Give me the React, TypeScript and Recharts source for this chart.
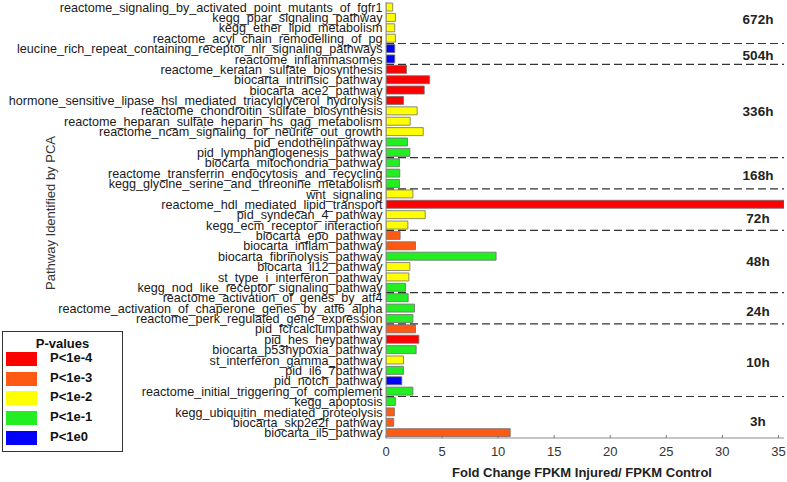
import React from 'react';
import { BarChart, Bar, XAxis, YAxis, Cell, ReferenceLine } from 'recharts';

const pathways = [
  'reactome_signaling_by_activated_point_mutants_of_fgfr1',
  'kegg_ppar_signaling_pathway',
  'kegg_ether_lipid_metabolism',
  'reactome_acyl_chain_remodelling_of_pg',
  'leucine_rich_repeat_containing_receptor_nlr_signaling_pathways',
  'reactome_inflammasomes',
  'reactome_keratan_sulfate_biosynthesis',
  'biocarta_intrinsic_pathway',
  'biocarta_ace2_pathway',
  'hormone_sensitive_lipase_hsl_mediated_triacylglycerol_hydrolysis',
  'reactome_chondroitin_sulfate_biosynthesis',
  'reactome_heparan_sulfate_heparin_hs_gag_metabolism',
  'reactome_ncam_signaling_for_neurite_out_growth',
  'pid_endothelinpathway',
  'pid_lymphangiogenesis_pathway',
  'biocarta_mitochondria_pathway',
  'reactome_transferrin_endocytosis_and_recycling',
  'kegg_glycine_serine_and_threonine_metabolism',
  'wnt_signaling',
  'reactome_hdl_mediated_lipid_transport',
  'pid_syndecan_4_pathway',
  'kegg_ecm_receptor_interaction',
  'biocarta_epo_pathway',
  'biocarta_inflam_pathway',
  'biocarta_fibrinolysis_pathway',
  'biocarta_il12_pathway',
  'st_type_i_interferon_pathway',
  'kegg_nod_like_receptor_signaling_pathway',
  'reactome_activation_of_genes_by_atf4',
  'reactome_activation_of_chaperone_genes_by_atf6_alpha',
  'reactome_perk_regulated_gene_expression',
  'pid_fcrcalciumpathway',
  'pid_hes_heypathway',
  'biocarta_p53hypoxia_pathway',
  'st_interferon_gamma_pathway',
  'pid_il6_7pathway',
  'pid_notch_pathway',
  'reactome_initial_triggering_of_complement',
  'kegg_apoptosis',
  'kegg_ubiquitin_mediated_proteolysis',
  'biocarta_skp2e2f_pathway',
  'biocarta_il5_pathway',
];

const foldChange = [
  0.6, 0.84, 0.78, 0.84,
  0.78, 0.78,
  1.83, 3.89, 3.41, 1.56, 2.78, 2.16, 3.32, 1.92, 2.13,
  1.2, 1.23, 1.2,
  2.4, 35.5, 3.5, 1.95,
  1.26, 2.63, 9.82, 2.13, 2.04, 1.74,
  1.98, 2.54, 2.4,
  2.63, 2.93, 2.69, 1.56, 1.56, 1.41, 2.4,
  0.84, 0.75, 0.69, 11.08,
];

// index into pLabels / pColors
const pLevel = [
  2, 2, 2, 2,
  4, 4,
  0, 0, 0, 0, 2, 2, 2, 3, 3,
  3, 3, 3,
  2, 0, 2, 2,
  1, 1, 3, 2, 2, 3,
  3, 3, 3,
  1, 0, 3, 2, 3, 4, 3,
  3, 1, 1, 1,
];

const groupNames = ['672h', '504h', '336h', '168h', '72h', '48h', '24h', '10h', '3h'];
const groupSizes = [4, 2, 9, 3, 4, 6, 3, 7, 4];

const pLabels = ['P<1e-4', 'P<1e-3', 'P<1e-2', 'P<1e-1', 'P<1e0'];
const pColors = ['#ff0000', '#ff5a14', '#ffff00', '#22ee22', '#0000ff'];

const xTicks = [0, 5, 10, 15, 20, 25, 30, 35];
const xMax = 35.5;

const rows = pathways.map((name, i) => ({ name, value: foldChange[i], level: pLevel[i] }));

// first row index of every group
const starts: number[] = [];
groupSizes.reduce((acc, n) => {
  starts.push(acc);
  return acc + n;
}, 0);
const separatorRows = starts.slice(1);

// where each time label sits: boundary between two rows (even groups) or the middle row (odd groups)
const groupAnchors = groupSizes.map((n, i) => ({
  row: starts[i] + Math.floor(n / 2),
  position: n % 2 === 0 ? 'start' : 'middle',
}));

// small vertical nudges so the time labels sit where the original puts them
const labelNudge: Record<string, number> = {
  '672h': -3,
  '504h': 2,
  '168h': 2,
  '72h': 9,
  '24h': 3,
  '10h': 2,
  '3h': 4,
};

const FONT = "Arial, 'Liberation Sans', sans-serif";

const GroupLabel = (props: any) => {
  const { viewBox, text } = props;
  if (!viewBox) return null;
  return (
    <text
      x={viewBox.x + viewBox.width - 26}
      y={viewBox.y + (labelNudge[text] || 0)}
      textAnchor="middle"
      dominantBaseline="central"
      fontFamily={FONT}
      fontWeight="bold"
      fontSize={13.5}
      fill="#222"
    >
      {text}
    </text>
  );
};

const YTitle = () => {
  const cx = 50;
  const cy = 213;
  return (
    <text
      x={cx}
      y={cy}
      transform={`rotate(-90 ${cx} ${cy})`}
      textAnchor="middle"
      dominantBaseline="central"
      fontFamily={FONT}
      fontSize={13}
      fill="#333"
    >
      Pathway Identified by PCA
    </text>
  );
};

const XTitle = (props: any) => {
  const vb = props.viewBox || { x: 386, y: 438, width: 398, height: 40 };
  return (
    <text
      x={vb.x + vb.width / 2 - 3}
      y={vb.y + 38.5}
      textAnchor="middle"
      fontFamily={FONT}
      fontWeight="bold"
      fontSize={13}
      fill="#222"
    >
      Fold Change FPKM Injured/ FPKM Control
    </text>
  );
};

const PLegend = () => (
  <div
    style={{
      position: 'absolute',
      left: 2,
      top: 331,
      width: 119,
      height: 119,
      border: '1px solid #333',
      background: '#fff',
      fontFamily: FONT,
      fontWeight: 'bold',
      fontSize: 13,
      color: '#111',
    }}
  >
    <div style={{ position: 'absolute', left: 0, width: 119, top: 4, textAlign: 'center' }}>P-values</div>
    {pLabels.map((label, i) => (
      <React.Fragment key={label}>
        <div
          style={{
            position: 'absolute',
            left: 3,
            top: 20 + i * 19.7,
            width: 31,
            height: 14,
            background: pColors[i],
          }}
        />
        <div style={{ position: 'absolute', left: 47, top: 18 + i * 19.7, lineHeight: '16px' }}>{label}</div>
      </React.Fragment>
    ))}
  </div>
);

const frame = { stroke: '#8c8c8c', strokeWidth: 1 };

export default function App() {
  return (
    <div style={{ position: 'absolute', left: 0, top: 0, width: 787, height: 482, background: '#fff' }}>
      <BarChart
        width={787}
        height={482}
        data={rows}
        layout="vertical"
        margin={{ top: 2, right: 3, bottom: 4, left: 0 }}
        barCategoryGap="10%"
      >
        <XAxis
          type="number"
          domain={[0, xMax]}
          ticks={xTicks}
          allowDataOverflow
          height={40}
          axisLine={frame}
          tickSize={-3}
          tickMargin={11.5}
          tickLine={{ stroke: '#777' }}
          tick={{ fontSize: 13, fill: '#333', fontFamily: FONT }}
          label={<XTitle />}
        />
        <XAxis
          xAxisId="top"
          orientation="top"
          type="number"
          domain={[0, xMax]}
          ticks={xTicks}
          height={0}
          axisLine={frame}
          tick={false}
          tickSize={-3}
          tickLine={{ stroke: '#777' }}
        />
        <YAxis
          type="category"
          dataKey="name"
          width={386}
          interval={0}
          axisLine={frame}
          tickLine={false}
          tickSize={0}
          tickMargin={3.5}
          tick={{ fontSize: 12.6, fill: '#1a1a1a', fontFamily: FONT }}
          label={<YTitle />}
        />
        <YAxis
          yAxisId="right"
          orientation="right"
          type="category"
          dataKey="name"
          width={0}
          axisLine={frame}
          tickLine={false}
          tick={false}
        />
        {separatorRows.map((r) => (
          <ReferenceLine
            key={`sep-${r}`}
            y={pathways[r]}
            position="start"
            stroke="#333"
            strokeWidth={1.2}
            strokeDasharray="8 4"
          />
        ))}
        {groupNames.map((g, i) => (
          <ReferenceLine
            key={`lab-${g}`}
            y={pathways[groupAnchors[i].row]}
            position={groupAnchors[i].position as any}
            stroke="none"
            label={<GroupLabel text={g} />}
          />
        ))}
        <Bar dataKey="value" isAnimationActive={false} stroke="#6e6e6e" strokeWidth={0.8}>
          {rows.map((r, i) => (
            <Cell key={`c-${i}`} fill={pColors[r.level]} />
          ))}
        </Bar>
      </BarChart>
      <PLegend />
    </div>
  );
}
